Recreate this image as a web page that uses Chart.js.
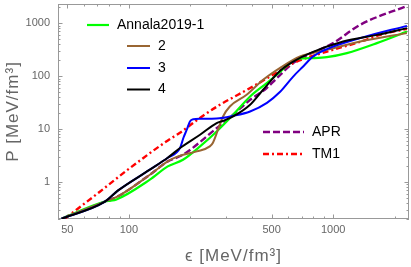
<!DOCTYPE html>
<html>
<head>
<meta charset="utf-8">
<script src="https://cdn.jsdelivr.net/npm/chart.js@4.4.1/dist/chart.umd.min.js"></script>
<style>
  html, body { margin: 0; padding: 0; background: #fff; }
  #eos { display: block; }
</style>
</head>
<body>
<canvas id="eos" width="411" height="267"></canvas>
<script>
// energy density eps and pressure P, both in MeV/fm^3
const annala1Eps = [46.9, 76.3, 81.6, 86.4, 126.7, 155, 184, 223, 269, 324, 392, 473, 530, 615, 664, 800, 931, 1167, 1637, 2296];
const annala1P   = [0.203, 0.425, 0.444, 0.463, 1.105, 1.97, 2.63, 4.70, 9.0, 18.6, 41.2, 73.8, 106, 176, 209, 219, 228, 272, 420, 695];

const annala2Eps = [46.9, 76.3, 88.3, 126.7, 155, 174, 215, 249, 258, 273, 289, 312, 377, 454, 550, 689, 931, 1355, 2296];
const annala2P   = [0.203, 0.425, 0.535, 1.37, 2.45, 3.04, 3.78, 4.70, 5.52, 9.7, 17.3, 26.7, 44.4, 85, 143, 234, 313, 450, 648];

const annala3Eps = [46.9, 76.3, 88.3, 126.7, 155, 178, 185, 192, 199, 207, 223, 269, 324, 392, 474, 550, 637, 713, 797, 931, 1355, 2296];
const annala3P   = [0.203, 0.425, 0.686, 1.71, 2.87, 4.38, 6.84, 9.7, 13.9, 15.3, 15.6, 15.8, 17.8, 21.5, 31.3, 50.6, 98, 152, 234, 323, 521, 889];

const annala4Eps = [46.9, 76.3, 88.3, 126.7, 155, 178, 223, 269, 289, 324, 392, 454, 550, 637, 771, 1119, 1637, 2296];
const annala4P   = [0.203, 0.425, 0.686, 1.71, 2.87, 4.38, 7.81, 12.97, 14.3, 17.3, 28.7, 55.2, 126, 188, 272, 450, 601, 805];

const aprEps = [46.9, 76.3, 88.3, 126.7, 155, 184, 269, 324, 392, 473, 530, 637, 1000, 1355, 2296];
const aprP   = [0.203, 0.425, 0.535, 1.37, 2.45, 3.27, 10.4, 18.6, 35.7, 59.4, 91.6, 176, 420, 929, 2120];

const tm1Eps = [48.6, 72.1, 101.1, 155.2, 177.8, 222.7, 279, 342, 405, 537, 637, 935, 1355, 1758, 2296];
const tm1P   = [0.203, 0.656, 1.83, 6.1, 8.5, 16.2, 28.7, 44.4, 63.7, 120.5, 176, 291, 444, 625, 780];

const xMajorTicks = [50, 100, 500, 1000];
const yMajorTicks = [1, 10, 100, 1000];
const xMin = 45, xMax = 2350, yMin = 0.2, yMax = 2300;

// minor ticks at 2..9 of every decade inside the range
function logTicks(min, max) {
  const out = [];
  for (let e = Math.floor(Math.log10(min)); e <= Math.ceil(Math.log10(max)); e++) {
    for (let m = 1; m < 10; m++) {
      const v = +(m * Math.pow(10, e)).toPrecision(6);
      if (v >= min && v <= max) out.push(v);
    }
  }
  return out;
}

const pts = (xs, ys) => xs.map((x, i) => ({ x: x, y: ys[i] }));

const series = [
  { label: '4', eps: annala4Eps, p: annala4P, color: '#000000', width: 2, dash: [] },
  { label: '3', eps: annala3Eps, p: annala3P, color: '#0000ff', width: 2, dash: [] },
  { label: '2', eps: annala2Eps, p: annala2P, color: '#996633', width: 2, dash: [] },
  { label: 'Annala2019-1', eps: annala1Eps, p: annala1P, color: '#00ff00', width: 2.2, dash: [] },
  { label: 'TM1', eps: tm1Eps, p: tm1P, color: '#ff0000', width: 2.4, dash: [6, 3, 2, 3] },
  { label: 'APR', eps: aprEps, p: aprP, color: '#800080', width: 2.4, dash: [7, 3] },
];

const legendItems = [
  { label: 'Annala2019-1', color: '#00ff00', width: 2.2, dash: [], x1: 87, x2: 109, y: 25 },
  { label: '2', color: '#996633', width: 2, dash: [], x1: 127, x2: 150, y: 46 },
  { label: '3', color: '#0000ff', width: 2, dash: [], x1: 127, x2: 150, y: 68 },
  { label: '4', color: '#000000', width: 2, dash: [], x1: 127, x2: 150, y: 89.5 },
  { label: 'APR', color: '#800080', width: 2.4, dash: [7, 3], x1: 263, x2: 304, y: 132 },
  { label: 'TM1', color: '#ff0000', width: 2.4, dash: [6, 3, 2, 3], x1: 263, x2: 304, y: 154 },
];

const fontFamily = '"Liberation Sans", Arial, sans-serif';

// Mathematica-like frame with inward ticks on all four sides
const framePlugin = {
  id: 'frame',
  beforeDatasetsDraw(chart) {
    const { ctx, chartArea: a, scales } = chart;
    ctx.save();
    ctx.strokeStyle = '#999';
    ctx.lineWidth = 1;
    ctx.strokeRect(a.left + 0.5, a.top + 0.5, a.right - a.left - 1, a.bottom - a.top - 1);
    ctx.beginPath();
    scales.x.ticks.forEach(t => {
      const px = Math.round(scales.x.getPixelForValue(t.value)) + 0.5;
      const len = xMajorTicks.includes(t.value) ? 4.5 : 2.5;
      ctx.moveTo(px, a.bottom); ctx.lineTo(px, a.bottom - len);
      ctx.moveTo(px, a.top); ctx.lineTo(px, a.top + len);
    });
    scales.y.ticks.forEach(t => {
      const py = Math.round(scales.y.getPixelForValue(t.value)) + 0.5;
      const len = yMajorTicks.includes(t.value) ? 4.5 : 2.5;
      ctx.moveTo(a.left, py); ctx.lineTo(a.left + len, py);
      ctx.moveTo(a.right, py); ctx.lineTo(a.right - len, py);
    });
    ctx.stroke();

    // axis titles
    ctx.fillStyle = '#666';
    ctx.font = '17px ' + fontFamily;
    ctx.letterSpacing = '1px';
    ctx.textAlign = 'center';
    ctx.textBaseline = 'middle';
    ctx.fillText('\u03f5 [MeV/fm\u00b3]', (a.left + a.right) / 2, 256);
    ctx.translate(13, (a.top + a.bottom) / 2);
    ctx.rotate(-Math.PI / 2);
    ctx.fillText('P [MeV/fm\u00b3]', 0, 0);
    ctx.restore();
  },
  afterDraw(chart) {
    const ctx = chart.ctx;
    ctx.save();
    legendItems.forEach(it => {
      ctx.strokeStyle = it.color;
      ctx.lineWidth = it.width;
      ctx.setLineDash(it.dash);
      ctx.beginPath();
      ctx.moveTo(it.x1, it.y);
      ctx.lineTo(it.x2, it.y);
      ctx.stroke();
      ctx.setLineDash([]);
      ctx.fillStyle = '#000';
      ctx.font = '14px ' + fontFamily;
      ctx.textAlign = 'left';
      ctx.textBaseline = 'middle';
      ctx.fillText(it.label, it.x2 + 8, it.y);
    });
    ctx.restore();
  }
};

new Chart(document.getElementById('eos'), {
  type: 'line',
  data: {
    datasets: series.map(s => ({
      label: s.label,
      data: pts(s.eps, s.p),
      borderColor: s.color,
      borderWidth: s.width,
      borderDash: s.dash,
      pointRadius: 0,
      fill: false,
      cubicInterpolationMode: 'monotone',
    })),
  },
  options: {
    responsive: false,
    animation: false,
    devicePixelRatio: 1,
    layout: { padding: { top: 4, right: 2, left: 0, bottom: 0 } },
    plugins: { legend: { display: false }, tooltip: { enabled: false } },
    scales: {
      x: {
        type: 'logarithmic',
        min: xMin,
        max: xMax,
        afterBuildTicks: sc => { sc.ticks = logTicks(xMin, xMax).map(v => ({ value: v })); },
        afterFit: sc => { sc.height = 48; sc.paddingLeft = 0; sc.paddingRight = 0; },
        grid: { display: false, drawTicks: false },
        border: { display: false },
        ticks: {
          autoSkip: false,
          maxRotation: 0,
          padding: 4,
          color: '#666',
          font: { size: 11, family: fontFamily },
          callback: v => (xMajorTicks.includes(v) ? String(v) : ''),
        },
      },
      y: {
        type: 'logarithmic',
        min: yMin,
        max: yMax,
        afterBuildTicks: sc => { sc.ticks = logTicks(yMin, yMax).map(v => ({ value: v })); },
        afterFit: sc => { sc.width = 58; sc.paddingTop = 0; sc.paddingBottom = 0; },
        grid: { display: false, drawTicks: false },
        border: { display: false },
        ticks: {
          autoSkip: false,
          padding: 8,
          color: '#666',
          font: { size: 11, family: fontFamily },
          callback: v => (yMajorTicks.includes(v) ? String(v) : ''),
        },
      },
    },
  },
  plugins: [framePlugin],
});
</script>
</body>
</html>
